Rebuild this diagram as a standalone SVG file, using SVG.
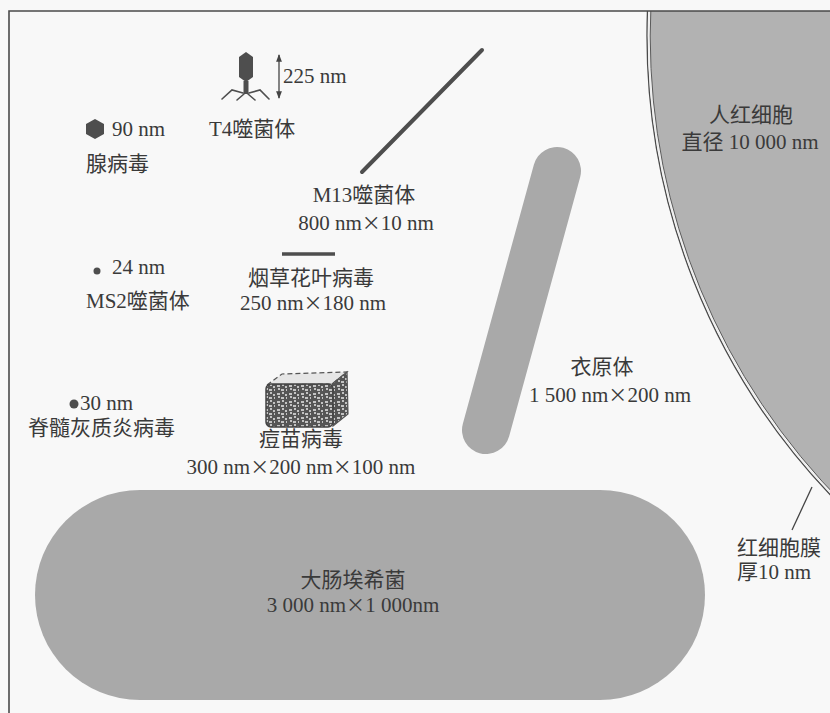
<svg xmlns="http://www.w3.org/2000/svg" width="830" height="713" viewBox="0 0 830 713">
  <style>
    .t { font-family: "Liberation Serif", "Noto Sans CJK SC", serif; font-size: 21px; fill: #3a3a3a; }
    .c { text-anchor: middle; }
    .x { font-family: "Noto Sans CJK SC", "Liberation Serif", sans-serif; font-size: 19px; }
    .body { fill: #a9a9a9; }
    .dark { fill: #4e4e4e; }
  </style>
  <defs>
    <clipPath id="frameClip">
      <rect x="9" y="11" width="821" height="702"/>
    </clipPath>
    <marker id="tip" viewBox="0 0 8 8" refX="7" refY="4" markerWidth="6" markerHeight="6" orient="auto-start-reverse">
      <path d="M0,1 L8,4 L0,7 Z" fill="#444"/>
    </marker>
    <pattern id="speckle" width="12" height="8" patternUnits="userSpaceOnUse">
      <rect width="12" height="8" fill="#555"/>
      <path d="M1,2 h3 M6,1 h2 M9,3 h2 M2,5 h2 M5,6 h3 M10,6 h1" stroke="#e8e8e8" stroke-width="1.3"/>
    </pattern>
  </defs>

  <!-- page -->
  <rect width="830" height="713" fill="#f8f8f8"/>

  <!-- red blood cell (large circle, clipped by the frame) -->
  <g id="red-cell" clip-path="url(#frameClip)">
    <circle cx="1313" cy="36" r="666" fill="none" stroke="#4a4a4a" stroke-width="1.3"/>
    <circle cx="1313" cy="36" r="664.3" fill="none" stroke="#eeeeee" stroke-width="1.6"/>
    <circle cx="1313" cy="36" r="662.8" fill="#b2b2b2" stroke="#5a5a5a" stroke-width="1"/>
    <text class="t c" x="751" y="122">人红细胞</text>
    <text class="t c" x="750" y="149">直径 10 000 nm</text>
  </g>

  <!-- frame -->
  <path d="M9,713 V11 H830" fill="none" stroke="#4a4a4a" stroke-width="1.6"/>

  <!-- T4 phage -->
  <g id="t4">
    <polygon class="dark" points="246,52 253,57 253,77 246,82 239,77 239,57"/>
    <rect class="dark" x="243.5" y="81" width="5" height="13"/>
    <g fill="none" stroke="#4e4e4e" stroke-width="1.6" stroke-linecap="round">
      <path d="M243,93 L232,90 L222,99"/>
      <path d="M249,93 L260,90 L269,99"/>
      <path d="M244,94 L237,100"/>
      <path d="M248,94 L255,100"/>
    </g>
    <text class="t" x="283" y="83">225 nm</text>
    <text class="t" x="209" y="136">T4噬菌体</text>
  </g>

  <!-- adenovirus -->
  <g id="adenovirus">
    <polygon class="dark" points="95,119 104,124 104,134 95,139 86,134 86,124"/>
    <text class="t" x="112" y="136">90 nm</text>
    <text class="t" x="86" y="171">腺病毒</text>
  </g>

  <!-- M13 phage -->
  <g id="m13">
    <line x1="362" y1="172" x2="482" y2="50" stroke="#4e4e4e" stroke-width="4" stroke-linecap="round"/>
    <text class="t c" x="364" y="202">M13噬菌体</text>
    <text class="t c" x="366" y="230">800 nm<tspan class="x">×</tspan>10 nm</text>
  </g>

  <!-- MS2 phage -->
  <g id="ms2">
    <circle class="dark" cx="97" cy="271" r="3.5"/>
    <text class="t" x="112" y="274">24 nm</text>
    <text class="t" x="86" y="308">MS2噬菌体</text>
  </g>

  <!-- tobacco mosaic virus -->
  <g id="tmv">
    <line x1="282" y1="254" x2="335" y2="254" stroke="#4e4e4e" stroke-width="3.5"/>
    <text class="t c" x="311" y="285">烟草花叶病毒</text>
    <text class="t c" x="313" y="310">250 nm<tspan class="x">×</tspan>180 nm</text>
  </g>

  <!-- poliovirus -->
  <g id="polio">
    <circle class="dark" cx="74" cy="404" r="4.5"/>
    <text class="t" x="80" y="410">30 nm</text>
    <text class="t" x="28" y="435">脊髓灰质炎病毒</text>
  </g>

  <!-- vaccinia virus -->
  <g id="vaccinia">
    <path d="M267,385 L282,374 L347,372 L332,384 Z" fill="#e6e6e6" stroke="#555" stroke-width="1.2" stroke-dasharray="5,3"/>
    <path d="M332,384 L347,372 L348,414 L333,426 Z" fill="url(#speckle)" stroke="#555" stroke-width="1.2"/>
    <rect x="266" y="384" width="67" height="43" rx="5" fill="url(#speckle)" stroke="#444" stroke-width="1.5"/>
    <text class="t c" x="301" y="446">痘苗病毒</text>
    <text class="t c" x="301" y="474">300 nm<tspan class="x">×</tspan>200 nm<tspan class="x">×</tspan>100 nm</text>
  </g>

  <!-- chlamydia elementary body -->
  <g id="chlamydia">
    <line x1="557" y1="171" x2="486" y2="430" stroke="#a9a9a9" stroke-width="48" stroke-linecap="round"/>
    <text class="t c" x="602" y="374">衣原体</text>
    <text class="t c" x="610" y="402">1 500 nm<tspan class="x">×</tspan>200 nm</text>
  </g>

  <!-- E. coli -->
  <g id="ecoli">
    <rect class="body" x="35" y="490" width="670" height="210" rx="105" ry="105"/>
    <text class="t c" x="353" y="587">大肠埃希菌</text>
    <text class="t c" x="353" y="612">3 000 nm<tspan class="x">×</tspan>1 000nm</text>
  </g>

  <!-- membrane label -->
  <g id="membrane-label">
    <text class="t" x="737" y="555">红细胞膜</text>
    <text class="t" x="737" y="579">厚10 nm</text>
  </g>

  <!-- connectors: size arrow and membrane pointer -->
  <g id="connectors" fill="none" stroke="#444" stroke-width="1.3">
    <line x1="279" y1="55" x2="279" y2="98" marker-start="url(#tip)" marker-end="url(#tip)"/>
    <line x1="812" y1="487" x2="792" y2="530"/>
  </g>
</svg>
